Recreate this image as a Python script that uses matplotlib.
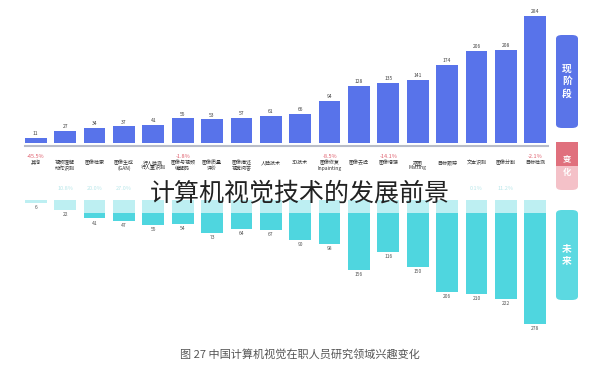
import matplotlib.pyplot as plt
from matplotlib.patches import FancyBboxPatch, Rectangle

plt.rcParams['font.family'] = ['Noto Sans CJK SC', 'DejaVu Sans']

# categories, left to right as shown
categories = ['其他', '视频理解\n动作识别', '图像检索', '图像生成\n(GAN)', '行人检测\n行人重识别',
              '图像与视频\n编解码', '图像质量\n评价', '图像描述\n视觉问答', '人脸技术', '3D技术',
              '图像修复\nInpainting', '图像去噪', '图像增强', '抠图\nMatting', '目标跟踪',
              '文本识别', '图像分割', '目标检测']
now_vals = [11, 27, 34, 37, 41, 55, 53, 57, 61, 66, 94, 128, 135, 141, 174, 206, 208, 284]
future_vals = [6, 22, 41, 47, 55, 54, 73, 64, 67, 90, 98, 156, 116, 150, 206, 210, 222, 278]
drop_idx = [0, 5, 10, 12, 17]
drop_txt = ['-45.5%', '-1.8%', '-8.5%', '-14.1%', '-2.1%']
rise_idx = [1, 2, 3, 15, 16]
rise_txt = ['10.8%', '20.0%', '27.0%', '0.1%', '11.2%']

blue = '#5873ea'
cyan = '#4fd6df'
light_cyan = '#bdeff2'
red = '#e0606e'

fig = plt.figure(figsize=(6, 3.69), dpi=100)
W, H = 600, 369

def fx(px):
    return px / W

def fy(py):
    return 1 - py / H

x = list(range(len(categories)))

# top: current interest
ax1 = fig.add_axes([fx(21), fy(143), fx(529), 134 / H])
ax1.bar(x, now_vals, width=0.74, color=blue)
for i, v in enumerate(now_vals):
    ax1.text(i, v + 4, str(v), ha='center', va='bottom', fontsize=3.6, color='#444444')
ax1.set_xlim(-0.5, len(x) - 0.5)
ax1.set_ylim(0, 300)
ax1.axis('off')

# bottom: future interest (pointing down)
ax2 = fig.add_axes([fx(21), fy(334), fx(529), 134 / H])
split = [min(v, 28) for v in future_vals]
ax2.bar(x, future_vals, width=0.74, color=cyan)
ax2.bar(x, split, width=0.74, color=light_cyan)
for i, v in enumerate(future_vals):
    ax2.text(i, v + 5, str(v), ha='center', va='top', fontsize=3.6, color='#555555')
ax2.set_xlim(-0.5, len(x) - 0.5)
ax2.set_ylim(300, 0)
ax2.axis('off')

# baseline
fig.add_artist(plt.Line2D([fx(25), fx(548)], [fy(146), fy(146)], color='#b8bcc8', lw=1.5))

# category labels and change labels
for i, c in enumerate(categories):
    xf = fx(21) + fx(529) * (i + 0.5) / len(x)
    fig.text(xf, fy(160), c, ha='center', va='top', fontsize=3.6, color='#333333', linespacing=1.1)
for i, t in zip(drop_idx, drop_txt):
    xf = fx(21) + fx(529) * (i + 0.5) / len(x)
    fig.text(xf, fy(156), t, ha='center', va='center', fontsize=4, color=red, style='italic')
for i, t in zip(rise_idx, rise_txt):
    xf = fx(21) + fx(529) * (i + 0.5) / len(x)
    fig.text(xf, fy(189), t, ha='center', va='center', fontsize=4, color='#b9e7ea')

# side boxes
def side_box(y0, y1, color):
    p = FancyBboxPatch((fx(556), fy(y1)), fx(22), (y1 - y0) / H,
                       boxstyle='round,pad=0,rounding_size=0.01',
                       transform=fig.transFigure, color=color, lw=0)
    fig.add_artist(p)

side_box(35, 128, '#5a74e8')
side_box(142, 190, '#f4c1c8')
fig.add_artist(Rectangle((fx(556), fy(166)), fx(22), 24 / H, transform=fig.transFigure,
                         color='#e0707d', lw=0))
side_box(210, 300, '#5cd9e1')
fig.text(fx(567), fy(81), '现\n阶\n段', ha='center', va='center', fontsize=7,
         color='white', weight='bold', linespacing=1.3)
fig.text(fx(567), fy(166), '变\n化', ha='center', va='center', fontsize=6,
         color='white', weight='bold', linespacing=1.6)
fig.text(fx(567), fy(255), '未\n来', ha='center', va='center', fontsize=7,
         color='white', weight='bold', linespacing=1.3)

# overlay title and caption
fig.text(0.5, fy(193), '计算机视觉技术的发展前景', ha='center', va='center',
         fontsize=18, color='#222222', weight='light')
fig.text(0.5, fy(354), '图 27 中国计算机视觉在职人员研究领域兴趣变化', ha='center',
         va='center', fontsize=8, color='#555555')

fig.savefig('out.png', dpi=100)
